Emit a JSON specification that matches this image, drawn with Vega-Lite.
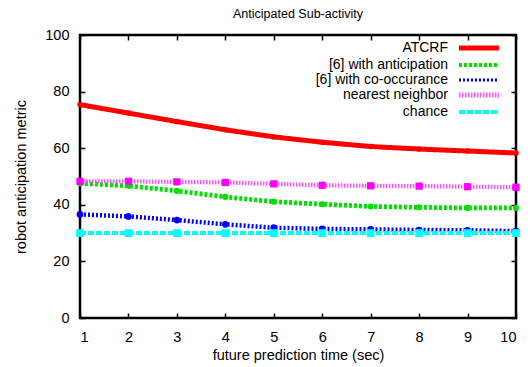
{
  "$schema": "https://vega.github.io/schema/vega-lite/v6.json",
  "autosize": "none",
  "width": 436,
  "height": 283,
  "padding": {"left": 80, "top": 35, "right": 15, "bottom": 49},
  "title": {"text": "Anticipated Sub-activity", "fontSize": 12.5, "fontWeight": "normal", "font": "Liberation Sans", "offset": 7, "color": "black"},
  "config": {
    "font": "Liberation Sans",
    "view": {"stroke": "black", "strokeWidth": 2.5},
    "axis": {"domain": false, "grid": false, "tickColor": "black", "tickWidth": 1.5, "tickSize": -5, "labelColor": "black", "labelFontSize": 14.5, "titleFontSize": 14.5, "titleFontWeight": "normal", "titleColor": "black", "labelFont": "Liberation Sans", "titleFont": "Liberation Sans"}
  },
  "data": {"values": [
    {"x": 1, "y": 75.4, "s": "ATCRF"}, {"x": 2, "y": 72.4, "s": "ATCRF"}, {"x": 3, "y": 69.4, "s": "ATCRF"}, {"x": 4, "y": 66.5, "s": "ATCRF"}, {"x": 5, "y": 64.0, "s": "ATCRF"}, {"x": 6, "y": 62.1, "s": "ATCRF"}, {"x": 7, "y": 60.6, "s": "ATCRF"}, {"x": 8, "y": 59.7, "s": "ATCRF"}, {"x": 9, "y": 59.0, "s": "ATCRF"}, {"x": 10, "y": 58.3, "s": "ATCRF"},
    {"x": 1, "y": 47.6, "s": "[6] with anticipation"}, {"x": 2, "y": 46.7, "s": "[6] with anticipation"}, {"x": 3, "y": 44.9, "s": "[6] with anticipation"}, {"x": 4, "y": 42.8, "s": "[6] with anticipation"}, {"x": 5, "y": 41.1, "s": "[6] with anticipation"}, {"x": 6, "y": 40.2, "s": "[6] with anticipation"}, {"x": 7, "y": 39.4, "s": "[6] with anticipation"}, {"x": 8, "y": 39.1, "s": "[6] with anticipation"}, {"x": 9, "y": 38.9, "s": "[6] with anticipation"}, {"x": 10, "y": 38.9, "s": "[6] with anticipation"},
    {"x": 1, "y": 36.6, "s": "[6] with co-occurance"}, {"x": 2, "y": 35.9, "s": "[6] with co-occurance"}, {"x": 3, "y": 34.6, "s": "[6] with co-occurance"}, {"x": 4, "y": 33.1, "s": "[6] with co-occurance"}, {"x": 5, "y": 31.9, "s": "[6] with co-occurance"}, {"x": 6, "y": 31.5, "s": "[6] with co-occurance"}, {"x": 7, "y": 31.3, "s": "[6] with co-occurance"}, {"x": 8, "y": 31.1, "s": "[6] with co-occurance"}, {"x": 9, "y": 31.0, "s": "[6] with co-occurance"}, {"x": 10, "y": 30.7, "s": "[6] with co-occurance"},
    {"x": 1, "y": 48.3, "s": "nearest neighbor"}, {"x": 2, "y": 48.3, "s": "nearest neighbor"}, {"x": 3, "y": 48.1, "s": "nearest neighbor"}, {"x": 4, "y": 47.9, "s": "nearest neighbor"}, {"x": 5, "y": 47.4, "s": "nearest neighbor"}, {"x": 6, "y": 46.9, "s": "nearest neighbor"}, {"x": 7, "y": 46.7, "s": "nearest neighbor"}, {"x": 8, "y": 46.6, "s": "nearest neighbor"}, {"x": 9, "y": 46.4, "s": "nearest neighbor"}, {"x": 10, "y": 46.2, "s": "nearest neighbor"},
    {"x": 1, "y": 30, "s": "chance"}, {"x": 2, "y": 30, "s": "chance"}, {"x": 3, "y": 30, "s": "chance"}, {"x": 4, "y": 30, "s": "chance"}, {"x": 5, "y": 30, "s": "chance"}, {"x": 6, "y": 30, "s": "chance"}, {"x": 7, "y": 30, "s": "chance"}, {"x": 8, "y": 30, "s": "chance"}, {"x": 9, "y": 30, "s": "chance"}, {"x": 10, "y": 30, "s": "chance"}
  ]},
  "resolve": {"axis": {"x": "independent", "y": "independent"}, "scale": {"color": "independent"}, "legend": {"color": "independent"}},
  "layer": [
    {
      "mark": {"type": "line", "clip": true},
      "encoding": {
        "x": {"field": "x", "type": "quantitative", "scale": {"domain": [1, 10], "nice": false, "zero": false}, "axis": {"values": [1,2,3,4,5,6,7,8,9,10], "title": "future prediction time (sec)", "labelPadding": 17, "titlePadding": 5}},
        "y": {"field": "y", "type": "quantitative", "scale": {"domain": [0, 100], "nice": false}, "axis": {"values": [0,20,40,60,80,100], "title": "robot anticipation metric", "labelPadding": 16, "titlePadding": 16}},
        "order": {"field": "x"},
        "color": {"field": "s", "type": "nominal", "title": null,
          "scale": {"domain": ["ATCRF", "[6] with anticipation", "[6] with co-occurance", "nearest neighbor", "chance"], "range": ["#ff0000", "#00e000", "#0000ff", "#ff55ff", "#00ffff"]},
          "legend": {"orient": "none", "legendX": 392, "legendY": 6, "padding": 0, "symbolType": "stroke", "symbolSize": 150, "labelAlign": "right", "labelOffset": -38, "labelFontSize": 14, "labelColor": "black", "rowPadding": -2, "symbolOffset": 0,
            "encoding": {"symbols": {
              "size": {"value": 1600},
              "strokeDash": {"value": {"expr": "datum.value === 'ATCRF' ? [1,0] : datum.value === '[6] with anticipation' ? [3,2] : datum.value === '[6] with co-occurance' ? [2,2] : datum.value === 'nearest neighbor' ? [1.5,1.5] : [6,2]"}},
              "strokeWidth": {"value": {"expr": "datum.value === 'ATCRF' ? 5 : datum.value === '[6] with anticipation' ? 4 : datum.value === '[6] with co-occurance' ? 3 : datum.value === 'nearest neighbor' ? 5 : 4"}}
            }}}},
        "strokeDash": {"field": "s", "type": "nominal", "title": null, "legend": null,
          "scale": {"domain": ["ATCRF", "[6] with anticipation", "[6] with co-occurance", "nearest neighbor", "chance"], "range": [[1, 0], [3, 2], [2, 2], [1.5, 1.5], [6, 2]]}},
        "strokeWidth": {"field": "s", "type": "nominal", "title": null, "legend": null,
          "scale": {"domain": ["ATCRF", "[6] with anticipation", "[6] with co-occurance", "nearest neighbor", "chance"], "range": [5, 4, 3, 5, 4]}}
      }
    },
    {
      "mark": {"type": "point", "filled": true, "opacity": 1},
      "encoding": {
        "x": {"field": "x", "type": "quantitative", "axis": {"orient": "top", "values": [1,2,3,4,5,6,7,8,9,10], "labels": false, "title": null}},
        "y": {"field": "y", "type": "quantitative", "axis": {"orient": "right", "values": [0,20,40,60,80,100], "labels": false, "title": null}},
        "color": {"field": "s", "type": "nominal", "legend": null,
          "scale": {"domain": ["ATCRF", "[6] with anticipation", "[6] with co-occurance", "nearest neighbor", "chance"], "range": ["#ff0000", "#00e000", "#0000ff", "#ff00ff", "#00ffff"]}},
        "shape": {"field": "s", "type": "nominal", "legend": null,
          "scale": {"domain": ["ATCRF", "[6] with anticipation", "[6] with co-occurance", "nearest neighbor", "chance"], "range": ["circle", "circle", "circle", "square", "square"]}},
        "size": {"field": "s", "type": "nominal", "legend": null,
          "scale": {"domain": ["ATCRF", "[6] with anticipation", "[6] with co-occurance", "nearest neighbor", "chance"], "range": [30, 60, 50, 170, 10]}}
      }
    }
  ]
}
